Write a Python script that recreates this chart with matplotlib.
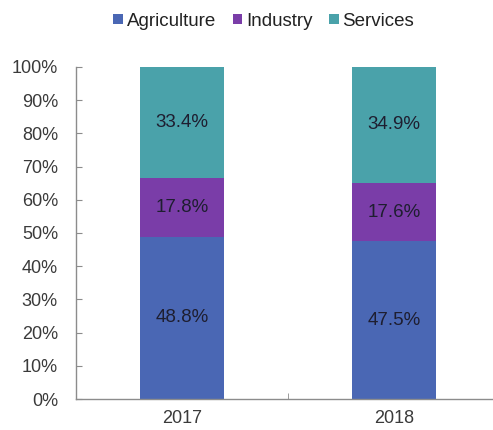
import matplotlib.pyplot as plt
import numpy as np

plt.rcParams['font.family'] = ['Liberation Sans', 'DejaVu Sans']

years = ['2017', '2018']
agriculture = [48.8, 47.5]
industry = [17.8, 17.6]
services = [33.4, 34.9]

colors = {'Agriculture': '#4a67b4', 'Industry': '#7a3da8', 'Services': '#4aa2aa'}

fig = plt.figure(figsize=(4.93, 4.30), dpi=100)
ax = fig.add_axes([76 / 493, 31 / 430, 424 / 493, 332 / 430])

x = np.arange(len(years))
width = 0.395
bottom = np.zeros(len(years))
for name, vals in [('Agriculture', agriculture), ('Industry', industry), ('Services', services)]:
    vals = np.array(vals)
    ax.bar(x, vals, width, bottom=bottom, color=colors[name], label=name)
    for xi, b, v in zip(x, bottom, vals):
        ax.text(xi, b + v / 2, f'{v:.1f}%', ha='center', va='center',
                fontsize=13.5, color='#1e1e30')
    bottom += vals

ax.set_xlim(-0.5, 1.5)
ax.set_ylim(0, 100)
ax.set_yticks(np.arange(0, 101, 10))
ax.set_yticklabels([f'{v}%' for v in range(0, 101, 10)])
ax.set_xticks(x)
ax.set_xticklabels(years)
ax.set_xticks([0.5], minor=True)

for s in ['top', 'right']:
    ax.spines[s].set_visible(False)
for s in ['left', 'bottom']:
    ax.spines[s].set_color('#8c8c8c')
    ax.spines[s].set_linewidth(1.0)

ax.tick_params(axis='y', direction='in', length=4, color='#8c8c8c',
               labelsize=13, labelcolor='#3a3a3a', pad=13)
ax.tick_params(axis='x', which='major', length=0, labelsize=13,
               labelcolor='#3a3a3a', pad=8)
ax.tick_params(axis='x', which='minor', direction='in', length=4, color='#8c8c8c')

fig.legend(loc='upper center', bbox_to_anchor=(0.535, 1.01), ncol=3, frameon=False,
           fontsize=13.5, handlelength=0.5, handleheight=0.5, handletextpad=0.2,
           columnspacing=0.9, labelcolor='#222222')

fig.savefig('out.png', dpi=100)
